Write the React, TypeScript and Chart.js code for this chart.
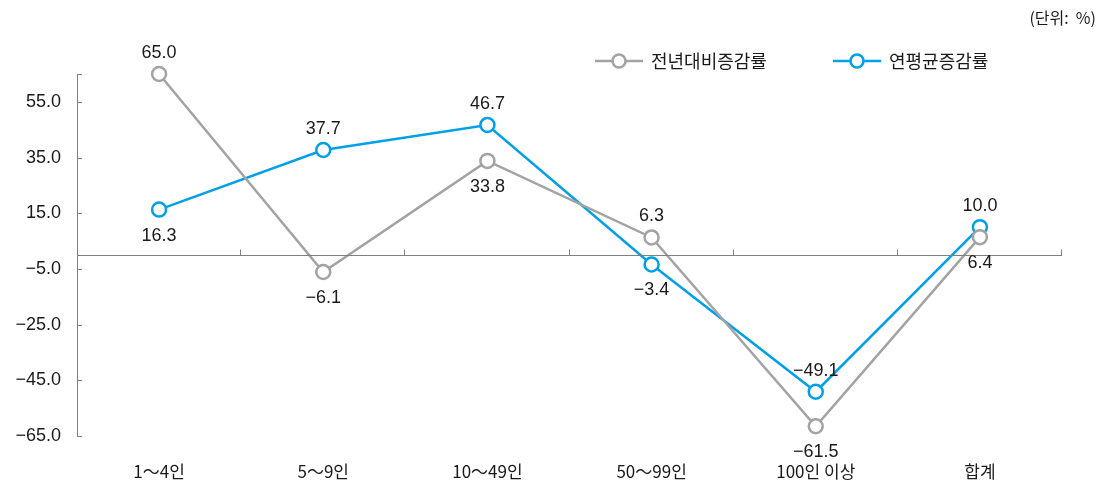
import React, { useEffect, useRef } from "react";
import { Chart, registerables } from "chart.js";

Chart.register(...registerables);

const categories = ["1～4인", "5～9인", "10～49인", "50～99인", "100인 이상", "합계"];
const seriesNames = ["전년대비증감률", "연평균증감률"];
const yoyValues = [65.0, -6.1, 33.8, 6.3, -61.5, 6.4];
const cagrValues = [16.3, 37.7, 46.7, -3.4, -49.1, 10.0];
const yoyLabelPos = ["above", "below", "below", "above", "below", "below"];
const cagrLabelPos = ["below", "above", "above", "below", "above", "above"];
const yTickValues = [-65, -45, -25, -5, 15, 35, 55, 65];
const unitText = "(단위:  %)";

const GRAY = "#a3a3a3";
const BLUE = "#00a0e9";
const AXIS = "#7f7f7f";
const TEXT = "#1a1a1a";
const FONT = '"Noto Sans CJK KR", "Noto Sans", sans-serif';
const NUMFONT = '"Liberation Sans", Arial, sans-serif';

const fmt = (v: number) => (v < 0 ? "\u2212" + Math.abs(v).toFixed(1) : v.toFixed(1));

const decorPlugin = {
  id: "decor",
  afterDatasetsDraw(chart: any) {
    const ctx = chart.ctx;
    const area = chart.chartArea;
    const y = chart.scales.y;
    ctx.save();
    const y0 = Math.round(y.getPixelForValue(0)) + 0.5;
    ctx.strokeStyle = AXIS;
    ctx.lineWidth = 1;
    ctx.beginPath();
    ctx.moveTo(area.left, y0);
    ctx.lineTo(area.right, y0);
    ctx.stroke();
    const n = categories.length;
    const step = (area.right - area.left) / n;
    for (let i = 1; i <= n; i++) {
      const px = Math.round(area.left + step * i) - 0.5;
      ctx.beginPath();
      ctx.moveTo(px, y0);
      ctx.lineTo(px, y0 - 6);
      ctx.stroke();
    }
    y.ticks.forEach((t: any) => {
      const py = Math.round(y.getPixelForValue(t.value)) + 0.5;
      ctx.beginPath();
      ctx.moveTo(area.left, py);
      ctx.lineTo(area.left + 5, py);
      ctx.stroke();
    });
    ctx.restore();
  },
  afterDraw(chart: any) {
    const ctx = chart.ctx;
    ctx.save();
    ctx.font = `18px ${NUMFONT}`;
    ctx.fillStyle = TEXT;
    ctx.textAlign = "center";
    ctx.textBaseline = "middle";
    const posSets = [yoyLabelPos, cagrLabelPos];
    chart.data.datasets.forEach((ds: any, di: number) => {
      const meta = chart.getDatasetMeta(di);
      meta.data.forEach((pt: any, j: number) => {
        const dy = posSets[di][j] === "above" ? -21 : 26;
        ctx.fillText(fmt(ds.data[j]), pt.x, pt.y + dy);
      });
    });
    const items = [
      { x: 595, color: GRAY, label: seriesNames[0] },
      { x: 833, color: BLUE, label: seriesNames[1] },
    ];
    const ly = 61;
    items.forEach((it) => {
      ctx.strokeStyle = it.color;
      ctx.lineWidth = 2.5;
      ctx.beginPath();
      ctx.moveTo(it.x, ly);
      ctx.lineTo(it.x + 48, ly);
      ctx.stroke();
      ctx.fillStyle = "#ffffff";
      ctx.beginPath();
      ctx.arc(it.x + 24, ly, 6.5, 0, Math.PI * 2);
      ctx.fill();
      ctx.stroke();
      ctx.fillStyle = TEXT;
      ctx.textAlign = "left";
      ctx.font = `18px ${FONT}`;
      ctx.fillText(it.label, it.x + 56, ly);
    });
    ctx.font = `16px ${FONT}`;
    ctx.textAlign = "right";
    ctx.fillText(unitText, 1096, 18);
    ctx.restore();
  },
};

export default function App() {
  const ref = useRef<HTMLCanvasElement | null>(null);
  useEffect(() => {
    if (!ref.current) return;
    const mkDs = (label: string, data: number[], color: string) => ({
      label,
      data,
      borderColor: color,
      backgroundColor: "#ffffff",
      borderWidth: 2.5,
      pointRadius: 7,
      pointBorderWidth: 2.5,
      pointBackgroundColor: "#ffffff",
      pointBorderColor: color,
      tension: 0,
      clip: false as any,
    });
    const chart = new Chart(ref.current, {
      type: "line",
      data: {
        labels: categories,
        datasets: [mkDs(seriesNames[0], yoyValues, GRAY), mkDs(seriesNames[1], cagrValues, BLUE)],
      },
      options: {
        animation: false,
        responsive: false,
        maintainAspectRatio: false,
        layout: { padding: { left: 0, right: 41, top: 74, bottom: 0 } },
        plugins: { legend: { display: false }, tooltip: { enabled: false }, title: { display: false } },
        scales: {
          x: {
            offset: true,
            grid: { display: false, drawTicks: false },
            border: { display: false },
            ticks: { color: TEXT, font: { family: FONT, size: 17 }, padding: 25, maxRotation: 0 },
            afterFit: (s: any) => {
              s.height = 53;
            },
          },
          y: {
            min: -65,
            max: 65,
            grid: { display: false, drawTicks: false },
            border: { display: true, color: AXIS, width: 1 },
            afterBuildTicks: (s: any) => {
              s.ticks = yTickValues.map((v) => ({ value: v }));
            },
            ticks: {
              color: TEXT,
              padding: 16,
              font: { family: NUMFONT, size: 18 },
              callback: (v: any) => (Number(v) === 65 ? "" : fmt(Number(v))),
            },
            afterFit: (s: any) => {
              s.width = 77;
            },
          },
        },
      },
      plugins: [decorPlugin],
    });
    return () => chart.destroy();
  }, []);
  return (
    <div style={{ position: "fixed", left: 0, top: 0, width: 1103, height: 489, background: "#fff" }}>
      <canvas ref={ref} width={1103} height={489} style={{ width: 1103, height: 489 }} />
    </div>
  );
}
